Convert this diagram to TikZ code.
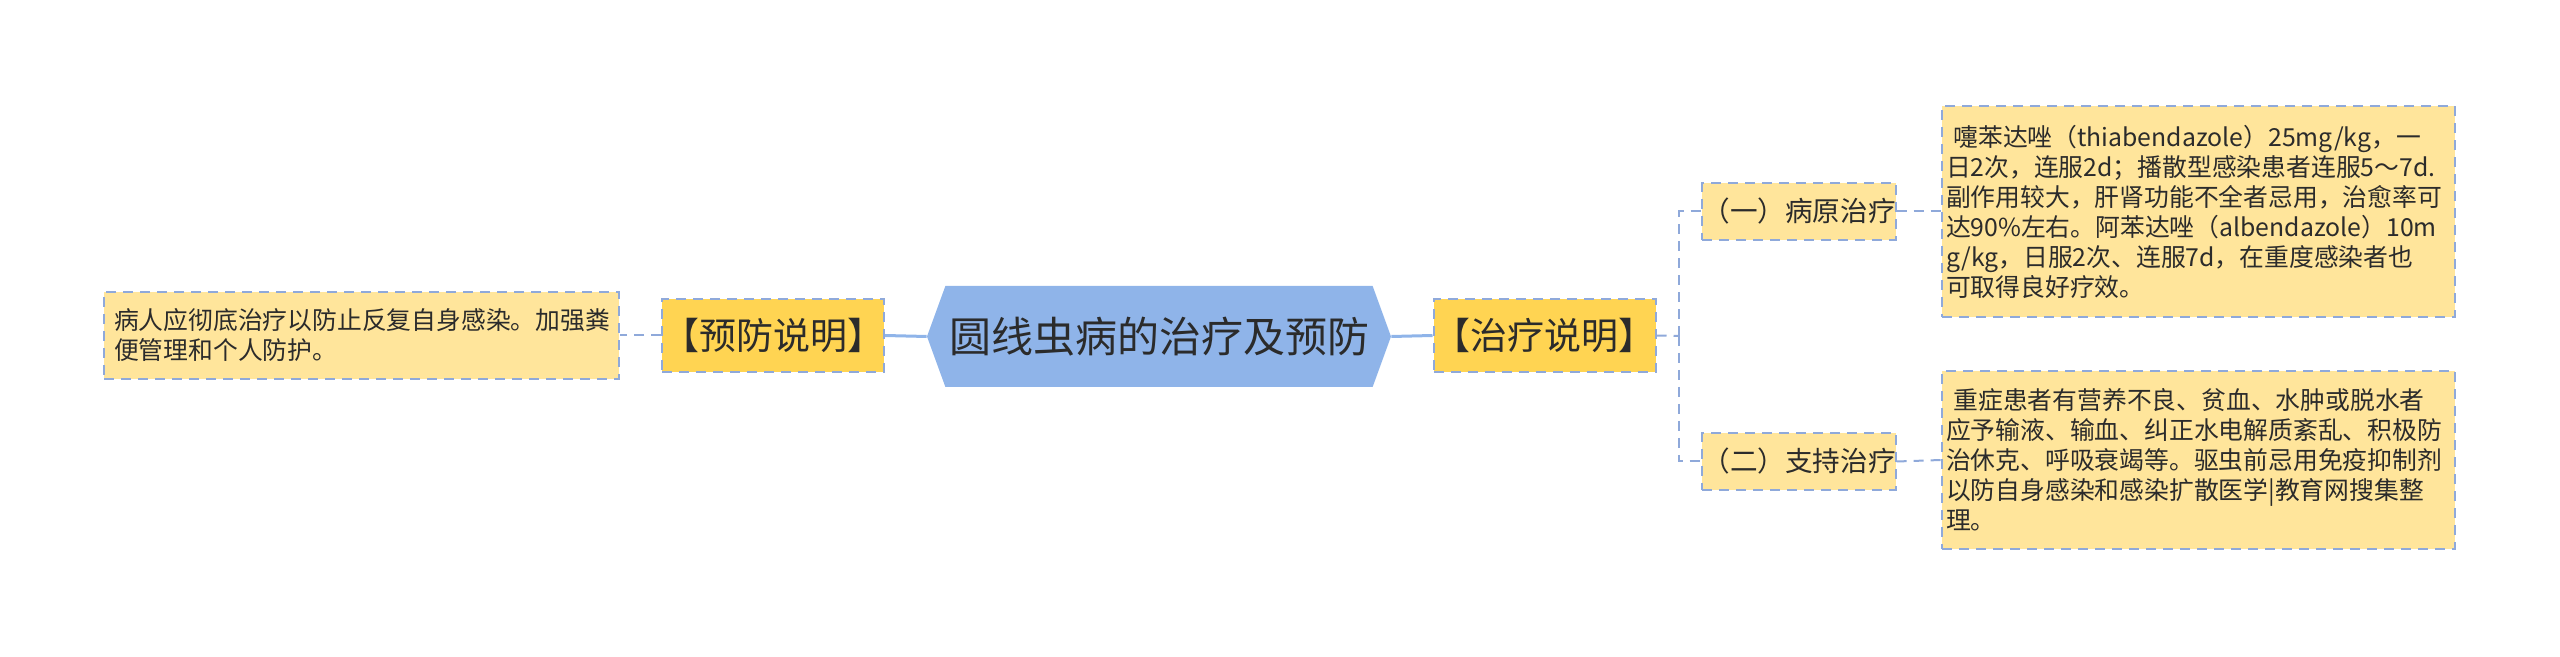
\documentclass[tikz,border=0pt]{standalone}
\usepackage{fontspec}
\setmainfont{Noto Sans CJK SC}
\usepackage{xcolor}
\usepackage{tikz}
\usetikzlibrary{shapes.symbols}

\definecolor{hexblue}{HTML}{8FB4E9}
\definecolor{dashblue}{HTML}{8FA9DA}
\definecolor{gold}{HTML}{FFD452}
\definecolor{pale}{HTML}{FFE59B}
\definecolor{ink}{HTML}{2B2B2B}

\begin{document}
\begin{tikzpicture}[x=0.5pt,y=-0.5pt,
      every node/.style={text=ink},
      root/.style={shape=signal, signal to=west and east, signal pointer angle=140,
        fill=hexblue, minimum width=232pt, minimum height=50.5pt, inner sep=0pt,
        font=\fontsize{21}{25}\selectfont},
      boxed/.style={draw=dashblue, line width=1pt, dash pattern=on 5pt off 3.5pt},
      branch/.style={boxed, fill=gold, minimum width=110pt, minimum height=36.5pt,
        inner sep=0pt, font=\fontsize{18.5}{22}\selectfont},
      sub/.style={boxed, fill=pale, minimum width=96pt, minimum height=28.5pt,
        inner sep=0pt, font=\fontsize{13.8}{17}\selectfont},
      note/.style={boxed, fill=pale, align=left, inner ysep=0pt,
        font=\fontsize{12.4}{15}\selectfont},
      trunk/.style={draw=hexblue, line width=1.5pt},
      twig/.style={draw=dashblue, line width=1pt, dash pattern=on 5pt off 3.5pt}]
    \useasboundingbox (0,0) rectangle (2560,657);

    \node[root] (root) at (1159,336.5) {圆线虫病的治疗及预防};

    \node[branch] (prev) at (773,335.5) {【预防说明】};
    \node[note, text width=247.5pt, inner xsep=5pt, minimum height=43.5pt]
      (prevnote) at (361.5,335.5)
      {病人应彻底治疗以防止反复自身感染。加强粪\\便管理和个人防护。};

    \node[branch] (treat) at (1544.5,335.5) {【治疗说明】};
    \node[sub] (drug) at (1799,211.5) {（一）病原治疗};
    \node[sub] (support) at (1799,461.5) {（二）支持治疗};
    \node[note, text width=252.5pt, inner xsep=2pt, minimum height=105.5pt]
      (drugnote) at (2198.5,211.5)
      {\hspace{0.3em}嚏苯达唑（thiabendazole）25mg/kg，一\\
       日2次，连服2d；播散型感染患者连服5～7d.\\
       副作用较大，肝肾功能不全者忌用，治愈率可\\
       达90\%左右。阿苯达唑（albendazole）10m\\
       g/kg，日服2次、连服7d，在重度感染者也\\
       可取得良好疗效。};
    \node[note, text width=252.5pt, inner xsep=2pt, minimum height=89pt]
      (supportnote) at (2198.5,460)
      {\hspace{0.3em}重症患者有营养不良、贫血、水肿或脱水者\\
       应予输液、输血、纠正水电解质紊乱、积极防\\
       治休克、呼吸衰竭等。驱虫前忌用免疫抑制剂\\
       以防自身感染和感染扩散医学|教育网搜集整\\
       理。};

    \coordinate (fork) at (1679,336);

    \draw[trunk] (root.west) -- (prev.east);
    \draw[trunk] (root.east) -- (treat.west);
    \draw[twig] (prev.west) -- (prevnote.east);
    \draw[twig] (treat.east) -- (fork);
    \draw[twig] (fork) |- (drug.west);
    \draw[twig] (fork) |- (support.west);
    \draw[twig] (drug.east) -- (drugnote.west);
    \draw[twig] (support.east) -- (supportnote.west);
  \end{tikzpicture}
\end{document}
